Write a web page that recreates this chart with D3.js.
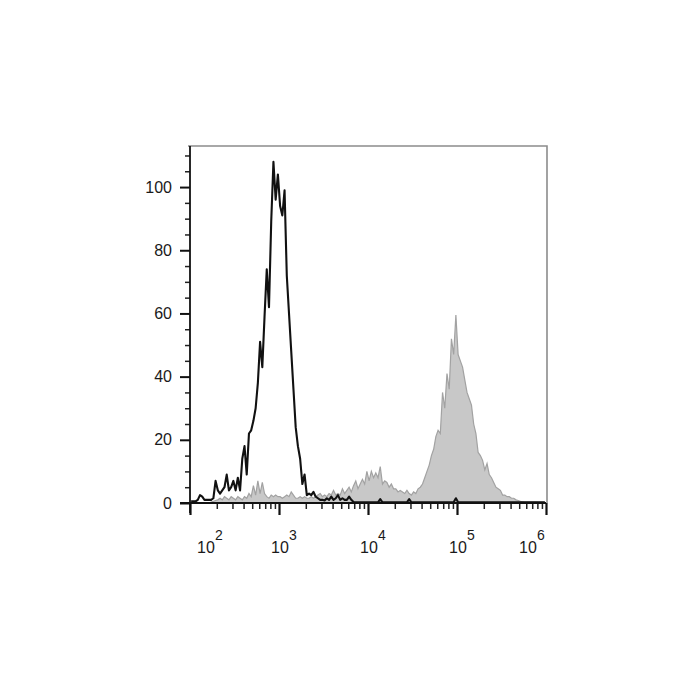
<!DOCTYPE html>
<html><head><meta charset="utf-8">
<script src="https://cdn.jsdelivr.net/npm/d3@7"></script>
<style>body{margin:0;background:#fff}</style>
</head><body>
<svg id="chart" width="700" height="700"></svg>
<script>
// Histogram bins: log10 start and width of each bin
const binStartLog = 2;
const binStepLog = 0.025;

// Black outline histogram (control), counts per bin
const controlCounts = [
  0.5,0.5,0.5,1,2.5,2,1,1,1,1,
  1.5,7,4,3,4,5,9,4,5,7,
  4,8,4,14,18,9,22,23,26,30,
  38,51,43,59,74,62,89,108,96,104,
  94,91,99,72,60,48,36,24,18,14,
  6,9,2.5,3,2.5,3.5,2,1.5,1,1,
  0.8,1.5,1,2,1,1.5,2.5,1,1.5,1,
  1,2,1,0.3,0.2,0.2,0.2,0.2,0.2,0.2,
  0.2,0.2,0.2,0.2,0.2,1.2,0.2,0.2,0.2,0.2,
  0.2,0.2,0.2,0.2,0.2,0.2,0.2,0.2,1.2,0.2,
  0.2,0.2,0.2,0.2,0.2,0.2,0.2,0.2,0.2,0.2,
  0.2,0.2,0.2,0.2,0.2,0.2,0.2,0.2,0.2,1.5,
  0.2,0.2,0.2,0.2,0.2,0.2,0.2,0.2,0.2,0.2,
  0.2,0.2,0.2,0.2,0.2,0.2,0.2,0.2,0.2,0.2,
  0.2,0.2,0.2,0.2,0.2,0.2,0.2,0.2,0.2,0.2,
  0.2,0.2,0.2,0.2,0.2,0.2,0.2,0.2,0.2,0.2
];

// Grey filled histogram (stained), counts per bin
const stainedCounts = [
  0,0,0,0,0,0,0,0,0,0.3,
  0.5,0.8,1,1.5,1,2,1.5,1,2,1.5,
  1,2,1.5,1,2,1.5,3,2,5.5,2.5,
  7,3,6.5,3,2,1.5,2.5,2,2.5,2,
  2,1.5,2,2.5,2,3.5,2.5,1.5,1.5,2,
  1.5,2,1.5,1.5,2,1.5,2,2.5,3,2,
  2.5,2,3,2.5,4,2.5,3,2.5,4.5,3,
  4,5,3.5,5.5,7,4.5,6,7.5,6,10,
  7,10,8,9.5,8,11.5,6,7,6.5,5,
  6,4.5,4.5,3.5,4,3.5,3,4,3,2.5,
  3.5,3,4.5,5,6,8,10,12,15,17,
  21,23,22,35,30,41,36,52,47,59.5,
  47,45,43,39,35,33,31,25,22,16,
  15,13.5,10.5,12.5,9,8,6.5,5,4.5,4,
  2.5,2.5,2,2,1.5,1.5,1,0.8,0.5,0.4,
  0.3,0.3,0.3,0.3,0.3,0.3,0.2,0.2,0.2,0.2
];

const yTickValues = [0,20,40,60,80,100];
const yMinorValues = [5,10,15,25,30,35,45,50,55,65,70,75,85,90,95,105,110];
const xDecadeExponents = [2,3,4,5,6];

const svg = d3.select("#chart");
const pLeft = 190, pRight = 547, pTop = 146, pBottom = 503;
const x = d3.scaleLog().domain([1e2, 1e6]).range([pLeft, 546]);
const y = d3.scaleLinear().domain([0, 113]).range([pBottom, pTop]);

const binValue = i => Math.pow(10, binStartLog + binStepLog * (i + 0.5));
const stained = stainedCounts.map((c, i) => ({v: binValue(i), c}));
const control = controlCounts.map((c, i) => ({v: binValue(i), c}));

// frame (top/right grey)
svg.append("path")
  .attr("d", `M${pLeft-2},${pTop} H${pRight} V${pBottom}`)
  .attr("fill", "none").attr("stroke", "#8c8c8c").attr("stroke-width", 1.6);

// stained filled histogram
const stainedPts = stained.filter((d, i) => i >= 8);
svg.append("path").datum(stainedPts)
  .attr("d", d3.area().x(d => x(d.v)).y0(y(0)).y1(d => y(d.c)))
  .attr("fill", "#c8c8c8");
svg.append("path").datum(stainedPts)
  .attr("d", d3.line().x(d => x(d.v)).y(d => y(d.c)))
  .attr("fill", "none").attr("stroke", "#a2a2a2").attr("stroke-width", 1.2);

// control outline
svg.append("path").datum(control)
  .attr("d", d3.line().x(d => x(d.v)).y(d => y(d.c)))
  .attr("fill", "none").attr("stroke", "#111").attr("stroke-width", 2.1)
  .attr("stroke-linejoin", "round");

// Y axis
const yAxis = svg.append("g").attr("transform", `translate(${pLeft},0)`)
  .call(d3.axisLeft(y).tickValues(yTickValues).tickSize(10).tickPadding(8));
yAxis.select(".domain").remove();
yAxis.selectAll(".tick line").attr("stroke", "#111").attr("stroke-width", 2);
yAxis.selectAll(".tick text").attr("font-family", "Liberation Sans, Arial, sans-serif")
  .attr("font-size", 16).attr("fill", "#1a1a1a");
const yMinor = svg.append("g").attr("transform", `translate(${pLeft},0)`)
  .call(d3.axisLeft(y).tickValues(yMinorValues).tickSize(5).tickFormat(""));
yMinor.select(".domain").remove();
yMinor.selectAll(".tick line").attr("stroke", "#222").attr("stroke-width", 1.5);

// X axis
const xMajorVals = xDecadeExponents.map(e => Math.pow(10, e));
const xMinorVals = [];
xDecadeExponents.slice(0, -1).forEach(e => { for (let k = 2; k <= 9; k++) xMinorVals.push(k * Math.pow(10, e)); });
const xMinor = svg.append("g").attr("transform", `translate(0,${pBottom})`)
  .call(d3.axisBottom(x).tickValues(xMinorVals).tickSize(6).tickFormat(""));
xMinor.select(".domain").remove();
xMinor.selectAll(".tick line").attr("stroke", "#222").attr("stroke-width", 1.5);
const xAxis = svg.append("g").attr("transform", `translate(0,${pBottom})`)
  .call(d3.axisBottom(x).tickValues(xMajorVals).tickSize(12).tickFormat(""));
xAxis.select(".domain").remove();
xAxis.selectAll(".tick line").attr("stroke", "#111").attr("stroke-width", 2.2);

// axis lines
svg.append("line").attr("x1", pLeft).attr("x2", pLeft).attr("y1", pTop).attr("y2", pBottom + 10)
  .attr("stroke", "#111").attr("stroke-width", 1.8);
svg.append("line").attr("x1", pLeft - 10).attr("x2", 546).attr("y1", pBottom).attr("y2", pBottom)
  .attr("stroke", "#111").attr("stroke-width", 1.8);

// X tick labels 10^n
const labelShift = (i, n) => i === 0 ? 16 : (i === n - 1 ? -18 : 1);
const labels = svg.append("g").attr("font-family", "Liberation Sans, Arial, sans-serif").attr("fill", "#1a1a1a");
xDecadeExponents.forEach((e, i) => {
  const cx = x(Math.pow(10, e)) + labelShift(i, xDecadeExponents.length);
  labels.append("text").attr("x", cx).attr("y", 553).attr("text-anchor", "middle")
    .attr("font-size", 16).text("10");
  labels.append("text").attr("x", cx + 9).attr("y", 540).attr("text-anchor", "start")
    .attr("font-size", 14).text(String(e));
});
</script>
</body></html>
